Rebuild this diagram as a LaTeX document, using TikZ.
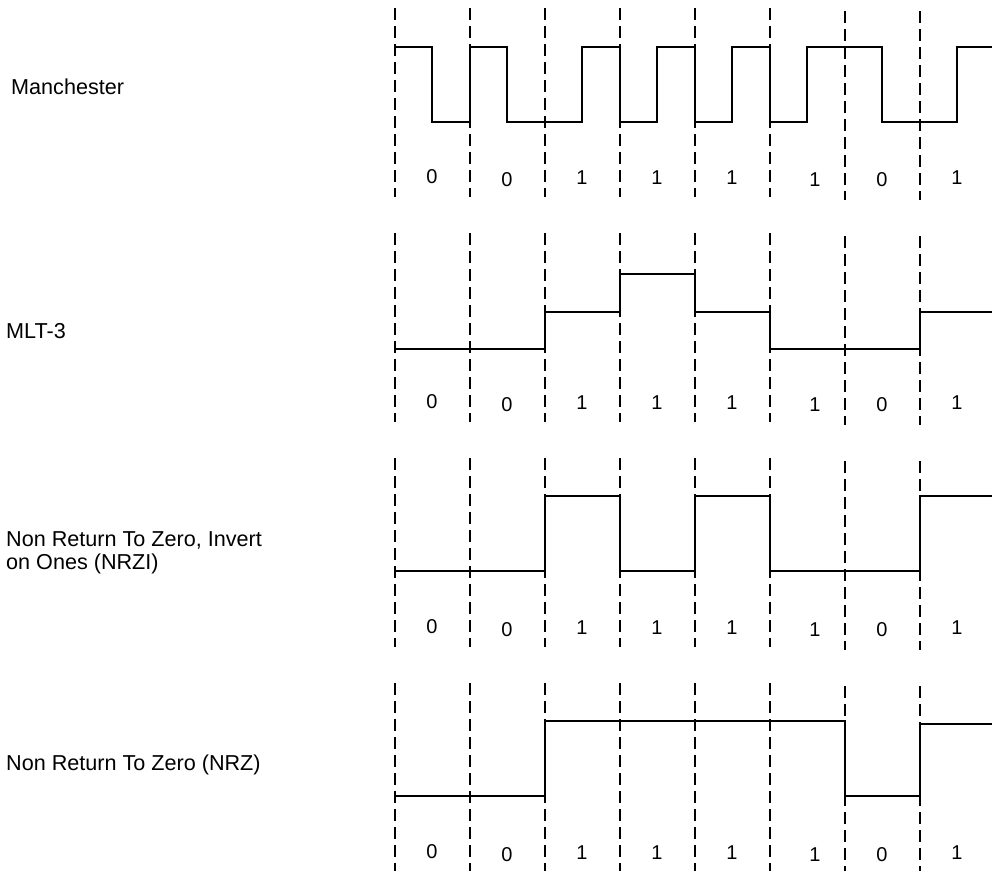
\documentclass[tikz,border=0pt]{standalone}
\usepackage{fontspec}
\setmainfont{Liberation Sans}

\begin{document}
\begin{tikzpicture}[x=1pt, y=-1pt,
    slotline/.style={dash pattern=on 12pt off 6pt, line width=1.1pt},
    wave/.style={line width=1.2pt, line join=miter},
    bitlabel/.style={font=\fontsize{20}{24}\selectfont, inner sep=0pt},
    codename/.style={font=\fontsize{21.6}{23.4}\selectfont, inner sep=0pt,
                     align=left}]

    \useasboundingbox (0,0) rectangle (992,870);

    % --- Bit slots and bit values, the same for every code.
    \foreach \row/\top in {man/8, mlt/233, nrzi/458, nrz/683} {
        \begin{scope}[shift={(0,\top)}]
            \foreach \x in {395,470,...,770}
                \draw[slotline] (\x,0) -- (\x,189);
            \foreach \x in {845,920}
                \draw[slotline] (\x,3) -- (\x,192);
            \foreach \i/\bx/\by/\b in {1/432/169/0, 2/507/172/0, 3/582/170/1,
                    4/657/170/1, 5/732/170/1, 6/815/172/1, 7/882/172/0, 8/957/170/1}
                \node[bitlabel] (\row-bit\i) at (\bx,\by) {\b};
        \end{scope}
    }

    % --- Manchester: transition in the middle of every bit.
    \begin{scope}[shift={(0,8)}]
        \node[codename, anchor=base west] (man) at (11,86) {Manchester};
        \draw[wave] (395,39) -- (432,39) -- (432,114) -- (470,114)
            -- (470,39) -- (507,39) -- (507,114) -- (582,114)
            -- (582,39) -- (620,39) -- (620,114) -- (657,114)
            -- (657,39) -- (695,39) -- (695,114) -- (732,114)
            -- (732,39) -- (770,39) -- (770,114) -- (807,114)
            -- (807,39) -- (882,39) -- (882,114) -- (957,114)
            -- (957,39) -- (992,39);
    \end{scope}

    % --- MLT-3: three levels, a step on every one.
    \begin{scope}[shift={(0,233)}]
        \node[codename, anchor=base west] (mlt) at (6,105) {MLT-3};
        \draw[wave] (395,116) -- (545,116) -- (545,79) -- (620,79)
            -- (620,41) -- (695,41) -- (695,79) -- (770,79)
            -- (770,116) -- (920,116) -- (920,79) -- (992,79);
    \end{scope}

    % --- NRZI: invert on every one.
    \begin{scope}[shift={(0,458)}]
        \node[codename, anchor=west] (nrzi) at (6,95)
            {Non Return To Zero, Invert\\on Ones (NRZI)};
        \draw[wave] (395,113) -- (545,113) -- (545,38) -- (620,38)
            -- (620,113) -- (695,113) -- (695,38) -- (770,38)
            -- (770,113) -- (920,113) -- (920,38) -- (992,38);
    \end{scope}

    % --- NRZ: level follows the bit.
    \begin{scope}[shift={(0,683)}]
        \node[codename, anchor=base west] (nrz) at (6,87) {Non Return To Zero (NRZ)};
        \draw[wave] (395,113) -- (545,113) -- (545,38) -- (845,38)
            -- (845,113) -- (920,113) -- (920,41) -- (992,41);
    \end{scope}
\end{tikzpicture}
\end{document}
